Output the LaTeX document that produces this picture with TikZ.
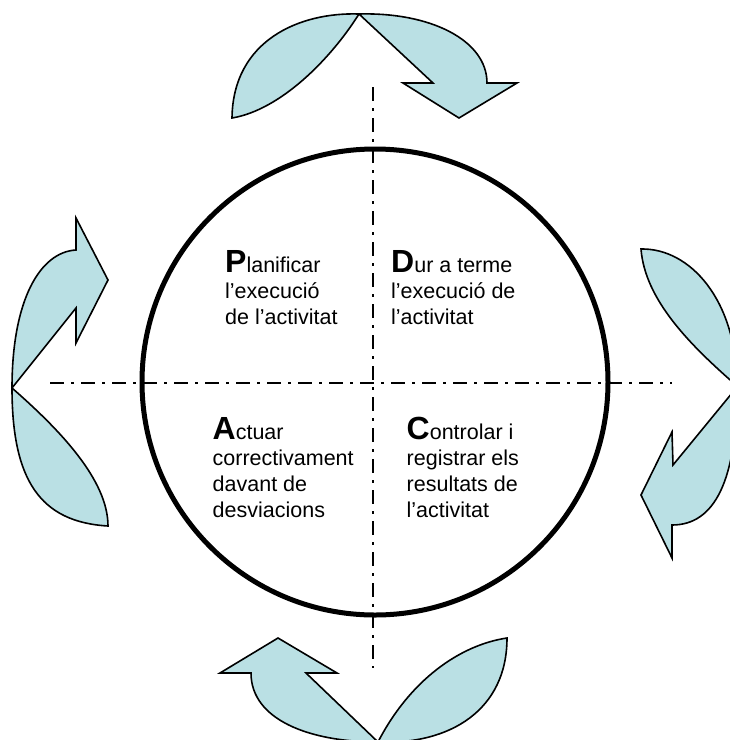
\documentclass[tikz,border=0pt]{standalone}
\usepackage{fontspec}
\setmainfont{Liberation Sans}
\usetikzlibrary{positioning}
\definecolor{cyclefill}{RGB}{186,224,228}
\newcommand{\phaseletter}[1]{{\fontsize{32}{26}\selectfont\bfseries #1}}

\begin{document}
\begin{tikzpicture}[x=1pt, y=-1pt,
  band/.style={draw, fill=cyclefill, line width=1.6pt, line join=miter},
  axis/.style={line width=1.9pt, dash pattern=on 14pt off 7pt on 3pt off 7pt},
  ring/.style={draw, circle, line width=5pt, minimum size=466pt, inner sep=0pt},
  phase/.style={anchor=north west, inner sep=0pt, align=left, font=\fontsize{21.5}{26}\selectfont}
]
\useasboundingbox (0,0) rectangle (730,740);

\coordinate (axW) at (50,383);
\coordinate (axE) at (672,383);
\coordinate (axN) at (373,87);
\coordinate (axS) at (373,668);
\draw[axis] (axW) -- (axE);
\draw[axis] (axN) -- (axS);

\node[ring] (hub) at (375,382) {};

\node[phase] (plan) at (225,250) {\phaseletter{P}lanificar\\l’execució\\de l’activitat};
\node[phase] (dur) at (391,250) {\phaseletter{D}ur a terme\\l’execució de\\l’activitat};
\node[phase] (act) at (212.5,417) {\phaseletter{A}ctuar\\correctivament\\davant de\\desviacions};
\node[phase] (ctrl) at (406.5,417) {\phaseletter{C}ontrolar i\\registrar els\\resultats de\\l’activitat};

% top
\draw[band] (359,14) .. controls (300,12) and (233,40) .. (232,118)
  .. controls (280,110) and (330,60) .. cycle;
\draw[band] (359,14) .. controls (430,12) and (487,40) .. (487,83)
  -- (517,83) -- (459,118) -- (403,83) -- (433,83) -- cycle;
% left
\draw[band] (12,388) .. controls (12,300) and (40,252) .. (76,250)
  -- (76,218) -- (108,280) -- (76,343) -- (76,308) -- cycle;
\draw[band] (12,388) .. controls (12,480) and (40,522) .. (108,526)
  .. controls (108,480) and (60,430) .. cycle;
% right
\draw[band] (737,386) .. controls (690,345) and (645,300) .. (641,249)
  .. controls (690,248) and (737,300) .. cycle;
\draw[band] (737,387) -- (673,465) -- (672,432) -- (641,495) -- (672,558) -- (672,525)
  .. controls (715,525) and (737,480) .. cycle;
% bottom
\draw[band] (378,742) -- (306,673) -- (337,673) -- (278,638) -- (220,673) -- (251,673)
  .. controls (251,720) and (310,742) .. cycle;
\draw[band] (378,742) .. controls (410,680) and (460,645) .. (507,638)
  .. controls (507,710) and (450,745) .. cycle;
\end{tikzpicture}
\end{document}
